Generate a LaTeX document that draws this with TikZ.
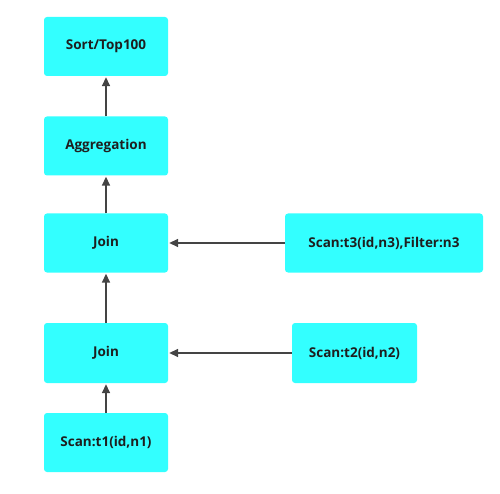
\documentclass[tikz,border=0pt]{standalone}
\usepackage{fontspec}
\setmainfont{Open Sans}
\usetikzlibrary{arrows.meta}
\definecolor{boxcyan}{RGB}{51,255,255}
\definecolor{arrowgray}{RGB}{68,68,68}
\definecolor{txt}{RGB}{30,30,30}
\tikzset{
  opbox/.style={fill=boxcyan, draw=none, rounded corners=3pt, minimum height=59pt,
    text=txt, font=\bfseries\fontsize{13.5}{15}\selectfont, inner sep=0pt},
  flow/.style={draw=arrowgray, line width=1.6pt, -{Triangle[length=9pt,width=8pt]}, shorten >=1pt}
}
\begin{document}
\begin{tikzpicture}[x=1pt,y=-1pt]
\useasboundingbox (0,0) rectangle (500,494);
\node[opbox, minimum width=124pt] (sort) at (106,46.5) {Sort/Top100};
\node[opbox, minimum width=124pt] (agg) at (106,146) {Aggregation};
\node[opbox, minimum width=124pt] (join1) at (106,243) {Join};
\node[opbox, minimum width=198pt] (t3) at (384,243) {Scan:t3(id,n3),Filter:n3};
\node[opbox, minimum width=124pt, minimum height=60pt] (join2) at (106,353) {Join};
\node[opbox, minimum width=125pt, minimum height=60pt] (t2) at (354.5,353) {Scan:t2(id,n2)};
\node[opbox, minimum width=124pt] (t1) at (106,442.5) {Scan:t1(id,n1)};
\draw[flow] (agg) -- (sort);
\draw[flow] (join1) -- (agg);
\draw[flow] (join2) -- (join1);
\draw[flow] (t1) -- (join2);
\draw[flow] (t3) -- (join1);
\draw[flow] (t2) -- (join2);
\end{tikzpicture}
\end{document}
